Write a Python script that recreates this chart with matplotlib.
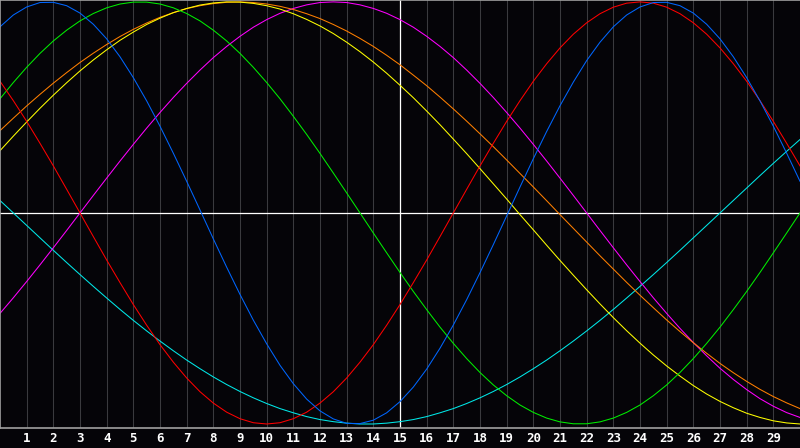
import matplotlib
matplotlib.use("Agg")
import matplotlib.pyplot as plt

# half-day steps from day 0 to day 30, "today" marked at day 15
days = [i / 2 for i in range(61)]
tick_days = list(range(1, 30))
tick_labels = [str(d) for d in tick_days]
today = 15

# cycle values, every half day
physical = [0.882, 0.938, 0.976, 0.997, 0.998, 0.982, 0.947, 0.894, 0.825, 0.740, 0.641,
            0.531, 0.411, 0.283, 0.150, 0.014, -0.123, -0.257, -0.386, -0.508, -0.620,
            -0.722, -0.809, -0.882, -0.938, -0.976, -0.997, -0.998, -0.982, -0.947, -0.894,
            -0.825, -0.740, -0.641, -0.531, -0.411, -0.283, -0.150, -0.014, 0.123, 0.257,
            0.386, 0.508, 0.620, 0.722, 0.809, 0.882, 0.938, 0.976, 0.997, 0.998,
            0.982, 0.947, 0.894, 0.825, 0.740, 0.641, 0.531, 0.411, 0.283, 0.150]
emotional = [0.624, 0.532, 0.434, 0.330, 0.223, 0.112, 0.000, -0.112, -0.223, -0.330, -0.434,
             -0.532, -0.624, -0.707, -0.782, -0.847, -0.901, -0.944, -0.975, -0.994, -1.000,
             -0.994, -0.975, -0.944, -0.901, -0.847, -0.782, -0.707, -0.624, -0.532, -0.434,
             -0.330, -0.223, -0.112, 0.000, 0.112, 0.223, 0.330, 0.434, 0.532, 0.624,
             0.707, 0.782, 0.847, 0.901, 0.944, 0.975, 0.994, 1.000, 0.994, 0.975,
             0.944, 0.901, 0.847, 0.782, 0.707, 0.624, 0.532, 0.434, 0.330, 0.223]
intellectual = [0.541, 0.618, 0.690, 0.756, 0.815, 0.866, 0.910, 0.945, 0.972, 0.990, 0.999,
                0.999, 0.990, 0.972, 0.945, 0.910, 0.866, 0.815, 0.756, 0.690, 0.618,
                0.541, 0.458, 0.372, 0.282, 0.189, 0.095, 0.000, -0.095, -0.189, -0.282,
                -0.372, -0.458, -0.541, -0.618, -0.690, -0.756, -0.815, -0.866, -0.910, -0.945,
                -0.972, -0.990, -0.999, -0.999, -0.990, -0.972, -0.945, -0.910, -0.866, -0.815,
                -0.756, -0.690, -0.618, -0.541, -0.458, -0.372, -0.282, -0.189, -0.095, 0.000]
intuitive = [-0.476, -0.402, -0.325, -0.246, -0.165, -0.083, 0.000, 0.083, 0.165, 0.246, 0.325,
             0.402, 0.476, 0.547, 0.614, 0.677, 0.736, 0.789, 0.837, 0.880, 0.916,
             0.946, 0.969, 0.986, 0.997, 1.000, 0.997, 0.986, 0.969, 0.946, 0.916,
             0.880, 0.837, 0.789, 0.736, 0.677, 0.614, 0.547, 0.476, 0.402, 0.325,
             0.246, 0.165, 0.083, 0.000, -0.083, -0.165, -0.246, -0.325, -0.402, -0.476,
             -0.547, -0.614, -0.677, -0.736, -0.789, -0.837, -0.880, -0.916, -0.946, -0.969]
aesthetic = [0.295, 0.364, 0.431, 0.496, 0.558, 0.617, 0.673, 0.725, 0.773, 0.818, 0.857,
             0.893, 0.923, 0.949, 0.969, 0.985, 0.995, 1.000, 0.999, 0.993, 0.982,
             0.966, 0.944, 0.917, 0.886, 0.850, 0.809, 0.764, 0.715, 0.662, 0.605,
             0.546, 0.483, 0.418, 0.350, 0.281, 0.210, 0.138, 0.066, -0.008, -0.080,
             -0.153, -0.225, -0.295, -0.364, -0.431, -0.496, -0.558, -0.617, -0.673, -0.725,
             -0.773, -0.818, -0.858, -0.893, -0.923, -0.949, -0.969, -0.985, -0.995, -1.000]
awareness = [0.390, 0.449, 0.507, 0.562, 0.615, 0.665, 0.713, 0.757, 0.798, 0.836, 0.870,
             0.900, 0.927, 0.949, 0.968, 0.982, 0.992, 0.998, 1.000, 0.997, 0.990,
             0.979, 0.964, 0.944, 0.921, 0.893, 0.862, 0.827, 0.789, 0.747, 0.702,
             0.653, 0.603, 0.549, 0.493, 0.435, 0.375, 0.314, 0.251, 0.187, 0.123,
             0.058, -0.008, -0.073, -0.138, -0.203, -0.266, -0.329, -0.390, -0.449, -0.507,
             -0.562, -0.615, -0.665, -0.713, -0.757, -0.798, -0.836, -0.870, -0.900, -0.927]
spiritual = [0.059, 0.000, -0.059, -0.118, -0.177, -0.235, -0.292, -0.348, -0.403, -0.457, -0.509,
             -0.559, -0.607, -0.653, -0.697, -0.738, -0.777, -0.813, -0.846, -0.876, -0.903,
             -0.927, -0.947, -0.965, -0.979, -0.989, -0.996, -1.000, -1.000, -0.996, -0.989,
             -0.979, -0.965, -0.947, -0.927, -0.903, -0.876, -0.846, -0.813, -0.777, -0.738,
             -0.697, -0.653, -0.607, -0.559, -0.509, -0.457, -0.403, -0.348, -0.292, -0.235,
             -0.177, -0.118, -0.059, 0.000, 0.059, 0.118, 0.177, 0.235, 0.292, 0.348]

series = [
    (spiritual, "#00e8e8"),
    (intuitive, "#ff00ff"),
    (awareness, "#ff7f00"),
    (aesthetic, "#ffff00"),
    (intellectual, "#00ee00"),
    (emotional, "#ff0000"),
    (physical, "#0066ff"),
]

bg = "#050408"
fig = plt.figure(figsize=(8, 4.48), dpi=100, facecolor=bg)
ax = fig.add_axes([0, 20 / 448, 1, 428 / 448])
ax.set_facecolor(bg)

ax.set_xlim(0, 30)
ax.set_ylim(-1.019, 1.009)

ax.set_xticks(tick_days)
ax.set_xticklabels(tick_labels, color="white", fontsize=9,
                   fontfamily="DejaVu Sans Mono", fontweight="bold")
ax.tick_params(axis="x", length=0, pad=3)
ax.set_yticks([])
ax.xaxis.grid(True, color="#3a3a3e", linewidth=0.75)
ax.set_axisbelow(True)

for side in ["left", "top", "bottom"]:
    ax.spines[side].set_color("#a0a0a0")
    ax.spines[side].set_linewidth(1.2)
ax.spines["right"].set_visible(False)

ax.axhline(0, color="white", linewidth=0.9, zorder=1.5)
ax.axvline(today, color="white", linewidth=0.9, zorder=1.5)

for values, color in series:
    ax.plot(days, values, color=color, linewidth=0.75, zorder=2)

fig.savefig("out.png", dpi=100, facecolor=bg)
